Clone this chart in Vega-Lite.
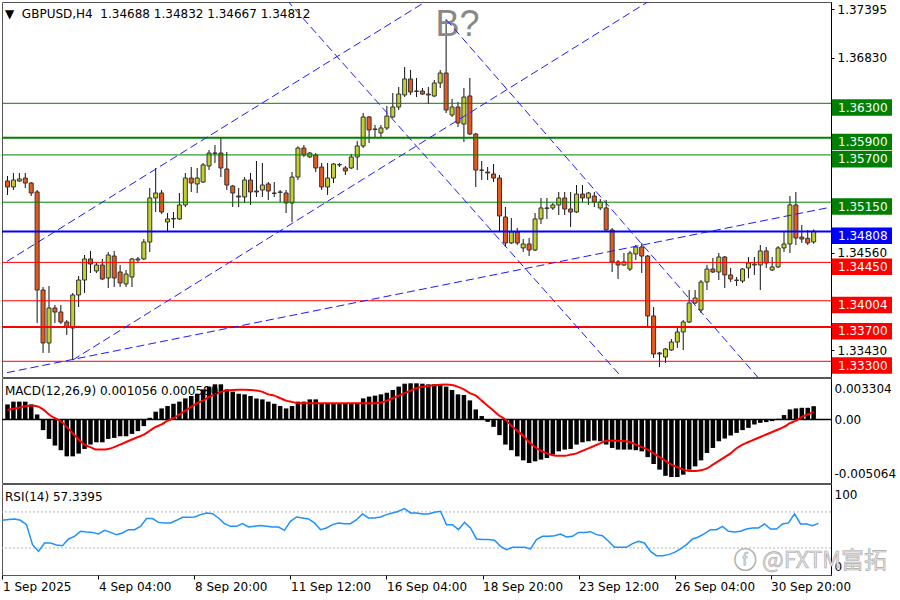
{
  "$schema": "https://vega.github.io/schema/vega-lite/v6.json",
  "background": "white",
  "padding": {"left": 1, "top": 1, "right": 0, "bottom": 0},
  "spacing": 1,
  "bounds": "flush",
  "resolve": {"scale": {"x": "independent", "y": "independent", "color": "independent"}},
  "config": {
    "view": {"stroke": "#555", "strokeWidth": 1},
    "font": "DejaVu Sans",
    "axis": {"labelFont": "DejaVu Sans", "labelFontSize": 12, "labelColor": "#000", "grid": false, "title": null, "domainColor": "#000", "tickColor": "#000"},
    "title": {"font": "DejaVu Sans", "fontSize": 12, "fontWeight": "normal", "color": "#000"}
  },
  "datasets": {
    "bars": [
      {"i":0,"o":1.35397,"h":1.35455,"l":1.35234,"c":1.35327,"hist":0.0012,"sig":0.00075,"rsi":60.7},
      {"i":1,"o":1.35327,"h":1.3549,"l":1.35292,"c":1.35408,"hist":0.00142,"sig":0.00085,"rsi":61.5},
      {"i":2,"o":1.35397,"h":1.3549,"l":1.35385,"c":1.3542,"hist":0.00142,"sig":0.00095,"rsi":62.2},
      {"i":3,"o":1.35431,"h":1.3549,"l":1.35315,"c":1.35373,"hist":0.00142,"sig":0.00105,"rsi":60.7},
      {"i":4,"o":1.35373,"h":1.35385,"l":1.35222,"c":1.35257,"hist":0.0012,"sig":0.00112,"rsi":55.9},
      {"i":5,"o":1.35269,"h":1.35292,"l":1.33745,"c":1.34129,"hist":0.0004,"sig":0.00105,"rsi":33.7},
      {"i":6,"o":1.34129,"h":1.34164,"l":1.33397,"c":1.33513,"hist":-0.00085,"sig":0.0008,"rsi":26.2},
      {"i":7,"o":1.33513,"h":1.34176,"l":1.33397,"c":1.3392,"hist":-0.00155,"sig":0.0004,"rsi":35.5},
      {"i":8,"o":1.3392,"h":1.33955,"l":1.33745,"c":1.33873,"hist":-0.00208,"sig":0.0001,"rsi":35.5},
      {"i":9,"o":1.33873,"h":1.33955,"l":1.33734,"c":1.33757,"hist":-0.00245,"sig":-0.00015,"rsi":33.3},
      {"i":10,"o":1.33757,"h":1.3378,"l":1.33606,"c":1.33699,"hist":-0.00294,"sig":-0.0006,"rsi":32.6},
      {"i":11,"o":1.33687,"h":1.34094,"l":1.33315,"c":1.34071,"hist":-0.00294,"sig":-0.0011,"rsi":40},
      {"i":12,"o":1.34071,"h":1.34292,"l":1.33931,"c":1.34245,"hist":-0.00272,"sig":-0.0016,"rsi":42.9},
      {"i":13,"o":1.34245,"h":1.34536,"l":1.34094,"c":1.3449,"hist":-0.00235,"sig":-0.002,"rsi":48.5},
      {"i":14,"o":1.3449,"h":1.34583,"l":1.34327,"c":1.34431,"hist":-0.002,"sig":-0.0022,"rsi":47.7},
      {"i":15,"o":1.3435,"h":1.34443,"l":1.34327,"c":1.3442,"hist":-0.00182,"sig":-0.0024,"rsi":47.3},
      {"i":16,"o":1.3442,"h":1.3449,"l":1.34245,"c":1.34257,"hist":-0.00182,"sig":-0.0024,"rsi":45.5},
      {"i":17,"o":1.34269,"h":1.34571,"l":1.34152,"c":1.34536,"hist":-0.00155,"sig":-0.00235,"rsi":49.6},
      {"i":18,"o":1.34524,"h":1.34583,"l":1.34164,"c":1.34269,"hist":-0.00147,"sig":-0.0022,"rsi":47.3},
      {"i":19,"o":1.34338,"h":1.3442,"l":1.34164,"c":1.34211,"hist":-0.00134,"sig":-0.002,"rsi":44.8},
      {"i":20,"o":1.34199,"h":1.34362,"l":1.34164,"c":1.34315,"hist":-0.00134,"sig":-0.0018,"rsi":46.6},
      {"i":21,"o":1.3428,"h":1.34501,"l":1.34164,"c":1.3449,"hist":-0.00115,"sig":-0.0016,"rsi":50.3},
      {"i":22,"o":1.34478,"h":1.34513,"l":1.34455,"c":1.3449,"hist":-0.00093,"sig":-0.0014,"rsi":50.3},
      {"i":23,"o":1.3449,"h":1.34722,"l":1.34478,"c":1.34687,"hist":-0.00053,"sig":-0.0012,"rsi":54},
      {"i":24,"o":1.34687,"h":1.35315,"l":1.34571,"c":1.35199,"hist":0.00013,"sig":-0.0009,"rsi":62.6},
      {"i":25,"o":1.35199,"h":1.35548,"l":1.35036,"c":1.35257,"hist":0.00062,"sig":-0.0006,"rsi":62.6},
      {"i":26,"o":1.35257,"h":1.35292,"l":1.35013,"c":1.35036,"hist":0.00088,"sig":-0.0004,"rsi":58.4},
      {"i":27,"o":1.3492,"h":1.35024,"l":1.34804,"c":1.34955,"hist":0.00107,"sig":-0.0001,"rsi":57.8},
      {"i":28,"o":1.34955,"h":1.35036,"l":1.3485,"c":1.3496,"hist":0.00125,"sig":0.0001,"rsi":57.8},
      {"i":29,"o":1.34955,"h":1.35257,"l":1.34943,"c":1.35118,"hist":0.00142,"sig":0.0004,"rsi":60.7},
      {"i":30,"o":1.35118,"h":1.3549,"l":1.35094,"c":1.35431,"hist":0.00168,"sig":0.0007,"rsi":64},
      {"i":31,"o":1.35431,"h":1.35559,"l":1.35269,"c":1.35373,"hist":0.00187,"sig":0.001,"rsi":64},
      {"i":32,"o":1.35362,"h":1.35548,"l":1.35257,"c":1.35431,"hist":0.00205,"sig":0.0013,"rsi":64.4},
      {"i":33,"o":1.35385,"h":1.35606,"l":1.35373,"c":1.35583,"hist":0.0024,"sig":0.0015,"rsi":67},
      {"i":34,"o":1.35571,"h":1.35757,"l":1.35524,"c":1.35722,"hist":0.00262,"sig":0.0018,"rsi":68.9},
      {"i":35,"o":1.35722,"h":1.35815,"l":1.35606,"c":1.35718,"hist":0.0028,"sig":0.002,"rsi":68.1},
      {"i":36,"o":1.35722,"h":1.35897,"l":1.35443,"c":1.35548,"hist":0.0028,"sig":0.0022,"rsi":63.3},
      {"i":37,"o":1.35536,"h":1.35734,"l":1.35292,"c":1.3535,"hist":0.0024,"sig":0.0023,"rsi":57},
      {"i":38,"o":1.35338,"h":1.3535,"l":1.35094,"c":1.35257,"hist":0.00222,"sig":0.00235,"rsi":54},
      {"i":39,"o":1.35222,"h":1.35315,"l":1.35094,"c":1.35211,"hist":0.00205,"sig":0.00237,"rsi":54},
      {"i":40,"o":1.35211,"h":1.35443,"l":1.35141,"c":1.35408,"hist":0.002,"sig":0.00237,"rsi":57},
      {"i":41,"o":1.35408,"h":1.3549,"l":1.35118,"c":1.35269,"hist":0.00187,"sig":0.00235,"rsi":53.3},
      {"i":42,"o":1.3528,"h":1.35629,"l":1.35211,"c":1.35269,"hist":0.00168,"sig":0.0023,"rsi":54},
      {"i":43,"o":1.35292,"h":1.35606,"l":1.35211,"c":1.3535,"hist":0.0016,"sig":0.0022,"rsi":54.8},
      {"i":44,"o":1.35362,"h":1.35385,"l":1.35176,"c":1.3528,"hist":0.00142,"sig":0.002,"rsi":54},
      {"i":45,"o":1.35257,"h":1.35385,"l":1.35211,"c":1.35252,"hist":0.00125,"sig":0.0019,"rsi":53.3},
      {"i":46,"o":1.35269,"h":1.35292,"l":1.35152,"c":1.35264,"hist":0.00107,"sig":0.0017,"rsi":53.3},
      {"i":47,"o":1.35257,"h":1.35292,"l":1.35024,"c":1.35141,"hist":0.00088,"sig":0.0015,"rsi":49.6},
      {"i":48,"o":1.35141,"h":1.35501,"l":1.3492,"c":1.35443,"hist":0.00107,"sig":0.0014,"rsi":59.6},
      {"i":49,"o":1.35443,"h":1.358,"l":1.35408,"c":1.3578,"hist":0.00142,"sig":0.0013,"rsi":64.4},
      {"i":50,"o":1.3578,"h":1.35815,"l":1.35676,"c":1.35699,"hist":0.00142,"sig":0.0013,"rsi":63.3},
      {"i":51,"o":1.35676,"h":1.35734,"l":1.35664,"c":1.35722,"hist":0.0016,"sig":0.0013,"rsi":62.2},
      {"i":52,"o":1.35699,"h":1.35722,"l":1.35501,"c":1.35548,"hist":0.0016,"sig":0.0013,"rsi":57.8},
      {"i":53,"o":1.35559,"h":1.35606,"l":1.35292,"c":1.35327,"hist":0.00125,"sig":0.0013,"rsi":50.3},
      {"i":54,"o":1.35327,"h":1.35606,"l":1.35234,"c":1.35431,"hist":0.00125,"sig":0.0013,"rsi":52.2},
      {"i":55,"o":1.35431,"h":1.35606,"l":1.35373,"c":1.35594,"hist":0.00125,"sig":0.0013,"rsi":55.9},
      {"i":56,"o":1.35583,"h":1.35606,"l":1.35559,"c":1.35588,"hist":0.00125,"sig":0.0013,"rsi":57.8},
      {"i":57,"o":1.35548,"h":1.35571,"l":1.35466,"c":1.35513,"hist":0.00125,"sig":0.0013,"rsi":57},
      {"i":58,"o":1.35548,"h":1.35711,"l":1.35536,"c":1.35676,"hist":0.00125,"sig":0.0013,"rsi":57},
      {"i":59,"o":1.35676,"h":1.35862,"l":1.35524,"c":1.35804,"hist":0.00133,"sig":0.0013,"rsi":61.4},
      {"i":60,"o":1.35804,"h":1.36187,"l":1.3578,"c":1.36141,"hist":0.00168,"sig":0.0013,"rsi":67.8},
      {"i":61,"o":1.36141,"h":1.36152,"l":1.35838,"c":1.3599,"hist":0.00182,"sig":0.0013,"rsi":63.3},
      {"i":62,"o":1.36001,"h":1.36048,"l":1.35908,"c":1.35996,"hist":0.0019,"sig":0.0013,"rsi":63.3},
      {"i":63,"o":1.35955,"h":1.36048,"l":1.35908,"c":1.36013,"hist":0.002,"sig":0.00135,"rsi":64.4},
      {"i":64,"o":1.36013,"h":1.36269,"l":1.3599,"c":1.36152,"hist":0.00213,"sig":0.0015,"rsi":67},
      {"i":65,"o":1.36141,"h":1.3642,"l":1.36129,"c":1.36257,"hist":0.00235,"sig":0.0017,"rsi":68.9},
      {"i":66,"o":1.36257,"h":1.3649,"l":1.36222,"c":1.36408,"hist":0.00262,"sig":0.0019,"rsi":70.7},
      {"i":67,"o":1.36397,"h":1.36722,"l":1.36373,"c":1.36583,"hist":0.00285,"sig":0.0021,"rsi":73.7},
      {"i":68,"o":1.36583,"h":1.36687,"l":1.36397,"c":1.36431,"hist":0.00288,"sig":0.0023,"rsi":68.9},
      {"i":69,"o":1.36443,"h":1.36594,"l":1.36373,"c":1.36438,"hist":0.00288,"sig":0.0025,"rsi":68.9},
      {"i":70,"o":1.36443,"h":1.36478,"l":1.36397,"c":1.36408,"hist":0.00285,"sig":0.0026,"rsi":67.8},
      {"i":71,"o":1.36408,"h":1.3649,"l":1.36292,"c":1.36397,"hist":0.0028,"sig":0.00267,"rsi":67.8},
      {"i":72,"o":1.36385,"h":1.36571,"l":1.36373,"c":1.36536,"hist":0.0028,"sig":0.00272,"rsi":69.6},
      {"i":73,"o":1.36536,"h":1.36687,"l":1.36478,"c":1.36652,"hist":0.0028,"sig":0.00276,"rsi":70.7},
      {"i":74,"o":1.36652,"h":1.37275,"l":1.36187,"c":1.36222,"hist":0.00262,"sig":0.00278,"rsi":55.9},
      {"i":75,"o":1.36164,"h":1.3635,"l":1.36141,"c":1.36257,"hist":0.00235,"sig":0.00275,"rsi":55.9},
      {"i":76,"o":1.36257,"h":1.36315,"l":1.36024,"c":1.36071,"hist":0.002,"sig":0.0026,"rsi":50.3},
      {"i":77,"o":1.36059,"h":1.36478,"l":1.3585,"c":1.36373,"hist":0.00195,"sig":0.0024,"rsi":58.4},
      {"i":78,"o":1.36385,"h":1.36594,"l":1.35931,"c":1.35943,"hist":0.00152,"sig":0.0021,"rsi":52.2},
      {"i":79,"o":1.35943,"h":1.35955,"l":1.35327,"c":1.35524,"hist":0.0008,"sig":0.0019,"rsi":40},
      {"i":80,"o":1.35524,"h":1.35629,"l":1.35408,"c":1.3552,"hist":0.00027,"sig":0.0015,"rsi":39.3},
      {"i":81,"o":1.35501,"h":1.35559,"l":1.35408,"c":1.3549,"hist":-0.00019,"sig":0.0011,"rsi":39.3},
      {"i":82,"o":1.35478,"h":1.35594,"l":1.35385,"c":1.35431,"hist":-0.00059,"sig":0.0007,"rsi":38.5},
      {"i":83,"o":1.35431,"h":1.35466,"l":1.34804,"c":1.3499,"hist":-0.00125,"sig":0.0003,"rsi":31.8},
      {"i":84,"o":1.34978,"h":1.35094,"l":1.34629,"c":1.34676,"hist":-0.002,"sig":0.0,"rsi":28.1},
      {"i":85,"o":1.34676,"h":1.34966,"l":1.34664,"c":1.34804,"hist":-0.00245,"sig":-0.0005,"rsi":30.7},
      {"i":86,"o":1.34804,"h":1.3485,"l":1.34652,"c":1.34676,"hist":-0.00294,"sig":-0.0009,"rsi":30.7},
      {"i":87,"o":1.34618,"h":1.34722,"l":1.34571,"c":1.34664,"hist":-0.00326,"sig":-0.0013,"rsi":30.7},
      {"i":88,"o":1.34664,"h":1.34734,"l":1.34524,"c":1.34594,"hist":-0.00347,"sig":-0.0018,"rsi":28.9},
      {"i":89,"o":1.34594,"h":1.35024,"l":1.34583,"c":1.34955,"hist":-0.00334,"sig":-0.0022,"rsi":39.2},
      {"i":90,"o":1.34955,"h":1.35199,"l":1.34897,"c":1.35083,"hist":-0.0032,"sig":-0.0025,"rsi":42.9},
      {"i":91,"o":1.35083,"h":1.35199,"l":1.34955,"c":1.35078,"hist":-0.00307,"sig":-0.0027,"rsi":42.9},
      {"i":92,"o":1.35083,"h":1.35141,"l":1.35059,"c":1.35118,"hist":-0.0028,"sig":-0.00285,"rsi":43.6},
      {"i":93,"o":1.35118,"h":1.35269,"l":1.35001,"c":1.35199,"hist":-0.00254,"sig":-0.0029,"rsi":45.5},
      {"i":94,"o":1.35199,"h":1.35269,"l":1.35001,"c":1.35071,"hist":-0.0024,"sig":-0.0029,"rsi":42.2},
      {"i":95,"o":1.35071,"h":1.35269,"l":1.34862,"c":1.35036,"hist":-0.00235,"sig":-0.0028,"rsi":42.9},
      {"i":96,"o":1.35036,"h":1.3535,"l":1.35024,"c":1.35245,"hist":-0.002,"sig":-0.0027,"rsi":47.3},
      {"i":97,"o":1.35245,"h":1.3535,"l":1.35152,"c":1.35199,"hist":-0.00182,"sig":-0.0025,"rsi":47.3},
      {"i":98,"o":1.35199,"h":1.35269,"l":1.35118,"c":1.35257,"hist":-0.00174,"sig":-0.0023,"rsi":48.1},
      {"i":99,"o":1.35222,"h":1.35269,"l":1.35094,"c":1.35152,"hist":-0.00168,"sig":-0.0021,"rsi":44.8},
      {"i":100,"o":1.35083,"h":1.35187,"l":1.35059,"c":1.35152,"hist":-0.00174,"sig":-0.0019,"rsi":43.6},
      {"i":101,"o":1.35083,"h":1.35176,"l":1.34804,"c":1.34827,"hist":-0.002,"sig":-0.0017,"rsi":37.4},
      {"i":102,"o":1.34827,"h":1.3485,"l":1.34338,"c":1.34455,"hist":-0.00227,"sig":-0.00168,"rsi":30.7},
      {"i":103,"o":1.34455,"h":1.34478,"l":1.34257,"c":1.3442,"hist":-0.0024,"sig":-0.0017,"rsi":30.7},
      {"i":104,"o":1.3442,"h":1.34559,"l":1.34408,"c":1.34455,"hist":-0.0024,"sig":-0.00172,"rsi":30.7},
      {"i":105,"o":1.34373,"h":1.34583,"l":1.3435,"c":1.34559,"hist":-0.0024,"sig":-0.0018,"rsi":34.8},
      {"i":106,"o":1.34548,"h":1.34652,"l":1.34478,"c":1.34629,"hist":-0.00245,"sig":-0.002,"rsi":37.4},
      {"i":107,"o":1.34629,"h":1.34676,"l":1.34327,"c":1.34524,"hist":-0.00254,"sig":-0.0022,"rsi":35.5},
      {"i":108,"o":1.34524,"h":1.34536,"l":1.33699,"c":1.33827,"hist":-0.003,"sig":-0.0024,"rsi":26.2},
      {"i":109,"o":1.33827,"h":1.33931,"l":1.33338,"c":1.33385,"hist":-0.00355,"sig":-0.0027,"rsi":21.4},
      {"i":110,"o":1.33397,"h":1.33408,"l":1.33234,"c":1.33385,"hist":-0.004,"sig":-0.003,"rsi":21.4},
      {"i":111,"o":1.3335,"h":1.33455,"l":1.3328,"c":1.33443,"hist":-0.00449,"sig":-0.0033,"rsi":22.6},
      {"i":112,"o":1.33431,"h":1.33559,"l":1.3342,"c":1.33524,"hist":-0.00459,"sig":-0.0036,"rsi":25.1},
      {"i":113,"o":1.33524,"h":1.33687,"l":1.33455,"c":1.33641,"hist":-0.00459,"sig":-0.0038,"rsi":28.9},
      {"i":114,"o":1.33641,"h":1.3378,"l":1.33431,"c":1.33757,"hist":-0.0044,"sig":-0.004,"rsi":33.7},
      {"i":115,"o":1.33757,"h":1.34129,"l":1.33745,"c":1.33978,"hist":-0.004,"sig":-0.0041,"rsi":40},
      {"i":116,"o":1.33978,"h":1.34129,"l":1.33966,"c":1.34036,"hist":-0.00374,"sig":-0.0041,"rsi":42.2},
      {"i":117,"o":1.33897,"h":1.34245,"l":1.33862,"c":1.34222,"hist":-0.00326,"sig":-0.00405,"rsi":45.9},
      {"i":118,"o":1.34222,"h":1.3442,"l":1.34129,"c":1.34373,"hist":-0.00267,"sig":-0.0039,"rsi":50.3},
      {"i":119,"o":1.34373,"h":1.34501,"l":1.34327,"c":1.34338,"hist":-0.00227,"sig":-0.0036,"rsi":50.3},
      {"i":120,"o":1.34338,"h":1.34559,"l":1.34245,"c":1.34513,"hist":-0.00174,"sig":-0.0033,"rsi":54},
      {"i":121,"o":1.34513,"h":1.34524,"l":1.34152,"c":1.34304,"hist":-0.00152,"sig":-0.003,"rsi":48.5},
      {"i":122,"o":1.34304,"h":1.34385,"l":1.34222,"c":1.34257,"hist":-0.00128,"sig":-0.0027,"rsi":47.7},
      {"i":123,"o":1.34245,"h":1.3428,"l":1.34176,"c":1.3424,"hist":-0.00107,"sig":-0.0023,"rsi":48.5},
      {"i":124,"o":1.34234,"h":1.34385,"l":1.34211,"c":1.34373,"hist":-0.00085,"sig":-0.002,"rsi":51.1},
      {"i":125,"o":1.34385,"h":1.34513,"l":1.34269,"c":1.34443,"hist":-0.00067,"sig":-0.0018,"rsi":52.2},
      {"i":126,"o":1.3442,"h":1.34513,"l":1.34304,"c":1.34431,"hist":-0.0004,"sig":-0.0016,"rsi":52.2},
      {"i":127,"o":1.3442,"h":1.34652,"l":1.34129,"c":1.34583,"hist":-0.00027,"sig":-0.0014,"rsi":56.6},
      {"i":128,"o":1.34583,"h":1.34629,"l":1.34385,"c":1.34443,"hist":-0.00021,"sig":-0.0012,"rsi":51.1},
      {"i":129,"o":1.34362,"h":1.34513,"l":1.3435,"c":1.34397,"hist":-0.00013,"sig":-0.001,"rsi":51.1},
      {"i":130,"o":1.34397,"h":1.3464,"l":1.34385,"c":1.34618,"hist":0.00005,"sig":-0.0008,"rsi":56.6},
      {"i":131,"o":1.34618,"h":1.34804,"l":1.34571,"c":1.34664,"hist":0.00035,"sig":-0.0006,"rsi":57.8},
      {"i":132,"o":1.34664,"h":1.35222,"l":1.34559,"c":1.35118,"hist":0.0008,"sig":-0.0003,"rsi":67.8},
      {"i":133,"o":1.35118,"h":1.35269,"l":1.34652,"c":1.34734,"hist":0.00088,"sig":-0.0001,"rsi":56.6},
      {"i":134,"o":1.34745,"h":1.34885,"l":1.34676,"c":1.34722,"hist":0.00093,"sig":0.0002,"rsi":56.6},
      {"i":135,"o":1.3473,"h":1.34827,"l":1.34652,"c":1.34676,"hist":0.00093,"sig":0.0004,"rsi":54.8},
      {"i":136,"o":1.34688,"h":1.34832,"l":1.34667,"c":1.34812,"hist":0.001056,"sig":0.00058,"rsi":57.3395}
    ],
    "levels": [
      {"price": 1.363, "kind": "resistance"},
      {"price": 1.359, "kind": "resistance"},
      {"price": 1.357, "kind": "resistance"},
      {"price": 1.3515, "kind": "resistance"},
      {"price": 1.34808, "kind": "current"},
      {"price": 1.3445, "kind": "support"},
      {"price": 1.34004, "kind": "support"},
      {"price": 1.337, "kind": "support"},
      {"price": 1.333, "kind": "support"}
    ],
    "trend": [
      {"line": "A1", "i": -0.0833, "p": 1.34462},
      {"line": "A1", "i": 70.98, "p": 1.37501},
      {"line": "A2", "i": 11, "p": 1.33315},
      {"line": "A2", "i": 108.53, "p": 1.37501},
      {"line": "L", "i": -0.0833, "p": 1.33168},
      {"line": "L", "i": 138.5, "p": 1.35087},
      {"line": "D1", "i": 47.12, "p": 1.37501},
      {"line": "D1", "i": 104.03, "p": 1.33083},
      {"line": "D2", "i": 74, "p": 1.37275},
      {"line": "D2", "i": 126.98, "p": 1.33083}
    ],
    "rsilevels": [{"v": 70}, {"v": 30}]
  },
  "vconcat": [
    {
      "width": 829,
      "height": 375,
      "title": {"text": "▼\u00a0\u00a0GBPUSD,H4\u00a0\u00a01.34688 1.34832 1.34667 1.34812", "anchor": "start", "frame": "group", "orient": "top", "offset": -24, "baseline": "middle", "dx": 3},
      "data": {"name": "bars"},
      "layer": [
        {
          "mark": {"type": "rule", "color": "#111", "strokeWidth": 1, "clip": true},
          "encoding": {
            "x": {"field": "i", "type": "quantitative", "scale": {"domain": [-0.0833, 138.0833], "nice": false, "zero": false}, "axis": null},
            "y": {"field": "l", "type": "quantitative", "scale": {"domain": [1.331174, 1.374779], "nice": false, "zero": false},
                  "axis": {"orient": "right", "values": [1.37395, 1.3683, 1.3456, 1.3343], "format": ".5f", "tickSize": 3, "labelPadding": 3, "domain": true}},
            "y2": {"field": "h"}
          }
        },
        {
          "mark": {"type": "bar", "size": 4, "stroke": "#333", "strokeWidth": 1, "clip": true},
          "encoding": {
            "x": {"field": "i", "type": "quantitative"},
            "y": {"field": "o", "type": "quantitative"},
            "y2": {"field": "c"},
            "color": {"condition": {"test": "datum.c >= datum.o", "value": "#c4d02c"}, "value": "#e9581c"}
          }
        },
        {
          "data": {"values": [{"label": "B?"}]},
          "mark": {"type": "text", "font": "Liberation Sans", "fontSize": 36, "color": "#888888", "align": "center", "baseline": "alphabetic", "clip": true},
          "encoding": {
            "x": {"datum": 75.9, "type": "quantitative"},
            "y": {"datum": 1.370825, "type": "quantitative"},
            "text": {"field": "label", "type": "nominal"}
          }
        },
        {
          "data": {"name": "levels"},
          "transform": [{"filter": "datum.price != 1.359 && datum.price != 1.337 && datum.price != 1.34808"}],
          "mark": {"type": "rule", "strokeWidth": 1, "clip": true},
          "encoding": {
            "y": {"field": "price", "type": "quantitative"},
            "color": {"field": "kind", "type": "nominal", "scale": {"domain": ["resistance", "current", "support"], "range": ["#008000", "#0000ff", "#ff0000"]}, "legend": null}
          }
        },
        {
          "data": {"name": "levels"},
          "transform": [{"filter": "datum.price == 1.359 || datum.price == 1.337 || datum.price == 1.34808"}],
          "mark": {"type": "rule", "strokeWidth": 2, "clip": true},
          "encoding": {
            "y": {"field": "price", "type": "quantitative"},
            "color": {"field": "kind", "type": "nominal", "legend": null}
          }
        },
        {
          "data": {"name": "trend"},
          "mark": {"type": "line", "clip": true, "strokeWidth": 1, "strokeDash": [8, 4], "color": "#1a1aff"},
          "encoding": {
            "x": {"field": "i", "type": "quantitative"},
            "y": {"field": "p", "type": "quantitative"},
            "detail": {"field": "line", "type": "nominal"}
          }
        },
        {
          "data": {"name": "levels"},
          "mark": {"type": "rect", "x": {"expr": "width + 1"}, "x2": {"expr": "width + 61"}, "yOffset": -4, "y2Offset": 12.5},
          "encoding": {
            "y": {"field": "price", "type": "quantitative"},
            "y2": {"field": "price"},
            "color": {"field": "kind", "type": "nominal", "legend": null}
          }
        },
        {
          "data": {"name": "levels"},
          "mark": {"type": "text", "x": {"expr": "width + 7"}, "dy": 4.5, "align": "left", "baseline": "middle", "color": "white", "fontSize": 12, "font": "DejaVu Sans"},
          "encoding": {
            "y": {"field": "price", "type": "quantitative"},
            "text": {"field": "price", "type": "quantitative", "format": ".5f"}
          }
        }
      ]
    },
    {
      "width": 829,
      "height": 105,
      "title": {"text": "MACD(12,26,9) 0.001056 0.000580", "anchor": "start", "frame": "group", "orient": "top", "offset": -25, "baseline": "middle", "dx": 3},
      "data": {"name": "bars"},
      "layer": [
        {
          "mark": {"type": "bar", "size": 4.5, "color": "#000", "clip": true},
          "encoding": {
            "x": {"field": "i", "type": "quantitative", "scale": {"domain": [-0.0833, 138.0833], "nice": false, "zero": false}, "axis": null},
            "y": {"field": "hist", "type": "quantitative", "scale": {"domain": [-0.005064, 0.003304], "nice": false, "zero": false},
                  "axis": {"orient": "right", "values": [0.00248, 0, -0.00433], "labelExpr": "datum.value > 0.001 ? '0.003304' : (datum.value < -0.001 ? '-0.005064' : '0.00')", "ticks": false, "labelPadding": 3, "domain": true}},
            "y2": {"datum": 0}
          }
        },
        {
          "data": {"values": [{"zero": 0}]},
          "mark": {"type": "rule", "color": "#000", "strokeWidth": 1.5, "clip": true},
          "encoding": {"y": {"field": "zero", "type": "quantitative"}}
        },
        {
          "mark": {"type": "line", "color": "#ff0000", "strokeWidth": 2, "interpolate": "monotone", "clip": true},
          "encoding": {
            "x": {"field": "i", "type": "quantitative"},
            "y": {"field": "sig", "type": "quantitative"}
          }
        }
      ]
    },
    {
      "width": 829,
      "height": 91,
      "title": {"text": "RSI(14) 57.3395", "anchor": "start", "frame": "group", "orient": "top", "offset": -25, "baseline": "middle", "dx": 3},
      "layer": [
        {
          "data": {"name": "rsilevels"},
          "mark": {"type": "rule", "color": "#b4b4b4", "strokeDash": [2, 2], "strokeWidth": 1, "clip": true},
          "encoding": {
            "y": {"field": "v", "type": "quantitative", "scale": {"domain": [0, 101], "nice": false, "zero": false},
                  "axis": {"orient": "right", "values": [89.2, 70, 30, 9.2], "labelExpr": "datum.value > 85 ? '100' : (datum.value < 15 ? '0' : datum.label)", "ticks": false, "labelPadding": 3, "domain": true}}
          }
        },
        {
          "data": {"name": "bars"},
          "mark": {"type": "line", "color": "#1e90ff", "strokeWidth": 1.5, "clip": true},
          "encoding": {
            "x": {"field": "i", "type": "quantitative", "scale": {"domain": [-0.0833, 138.0833], "nice": false, "zero": false},
                  "axis": {"orient": "bottom", "values": [0, 16, 32, 48, 64, 80, 96, 112, 128], "labelExpr": "['1 Sep 2025','4 Sep 04:00','8 Sep 20:00','11 Sep 12:00','16 Sep 04:00','18 Sep 20:00','23 Sep 12:00','26 Sep 04:00','30 Sep 20:00'][round(datum.value / 16)]", "labelAlign": "left", "labelPadding": 2, "tickSize": 4, "domain": false, "labelFlush": false, "labelOverlap": false, "labelBound": false}},
            "y": {"field": "rsi", "type": "quantitative"}
          }
        },
        {
          "data": {"values": [{"label": "ⓕ @FXTM富拓"}]},
          "mark": {"type": "text", "font": "Noto Sans CJK SC", "fontSize": 23, "align": "right", "baseline": "middle", "fill": "#e4e4e4", "stroke": "#a8a8a8", "strokeWidth": 0.6},
          "encoding": {
            "x": {"datum": 147.4, "type": "quantitative"},
            "y": {"datum": 15.5, "type": "quantitative"},
            "text": {"field": "label", "type": "nominal"}
          }
        }
      ]
    }
  ]
}
